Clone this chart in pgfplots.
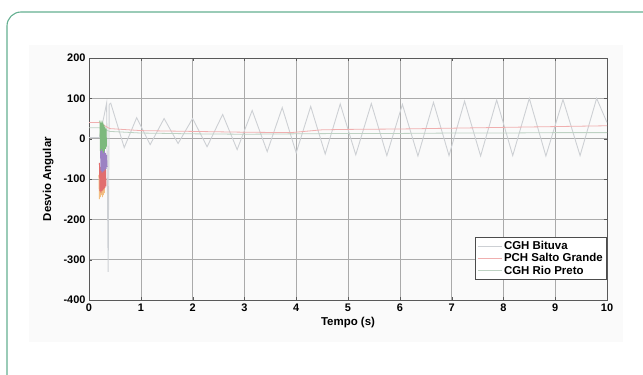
\documentclass[border=0pt]{standalone}
\usepackage{pgfplots}
\pgfplotsset{compat=1.18}
\usepackage{fontspec}
\setmainfont{Liberation Sans}
\definecolor{framegreen}{RGB}{100,175,145}
\definecolor{bituva}{RGB}{205,208,212}
\definecolor{salto}{RGB}{240,175,175}
\definecolor{rio}{RGB}{190,210,195}
\definecolor{trgreen}{RGB}{125,185,125}
\definecolor{trpurple}{RGB}{155,130,195}
\definecolor{trred}{RGB}{225,110,110}
\definecolor{trorange}{RGB}{242,190,130}
\definecolor{gridc}{RGB}{170,170,170}
\definecolor{bgc}{RGB}{250,250,250}
\begin{document}
\begin{tikzpicture}[x=1bp,y=1bp]
\path[use as bounding box] (0,0) rectangle (643,374);
\fill[bgc] (29,32) rectangle (623,329);
\draw[framegreen, line width=1.1bp, rounded corners=14bp] (7,-20) -- (7,362) -- (660,362);
\begin{axis}[
  at={(89bp,74bp)}, anchor=south west,
  width=518bp, height=242bp, scale only axis,
  xmin=0, xmax=10, ymin=-400, ymax=200,
  xtick={0,1,...,10}, ytick={-400,-300,...,200},
  grid=major,
  major grid style={gridc, line width=0.6pt},
  axis line style={gray!70!black, line width=0.6pt},
  tick style={gray!70!black},
  tick align=inside,
  major tick length=3bp,
  font=\fontsize{11.5}{13}\selectfont\bfseries,
  tick label style={font=\fontsize{11}{13}\selectfont\bfseries},
  /pgf/number format/assume math mode=true,
  xlabel={Tempo (s)}, ylabel={Desvio Angular},
  xlabel style={at={(axis description cs:0.5,-0.095)}, anchor=center},
  ylabel style={at={(axis description cs:-0.079,0.5)}, anchor=center},
  xticklabel style={yshift=0bp},
  yticklabel style={xshift=0bp},
  legend style={at={(1,0.26)}, anchor=north east, draw=gray!60!black, line width=0.6pt,
    font=\fontsize{11.5}{13}\selectfont\bfseries, row sep=-1.5bp, inner sep=2bp, fill=white},
  legend cell align=left,
  legend image code/.code={\draw[#1] (0bp,0bp) -- (24bp,0bp);},
]
\addplot[bituva, line width=0.9pt] coordinates {
(0,3) (0.2,3) (0.28,50) (0.34,88) (0.37,-330) (0.39,85) (0.42,88)
(0.68,-22) (0.92,52) (1.18,-15) (1.45,50) (1.72,-12) (2.0,50) (2.28,-20)
(2.58,60) (2.86,-27) (3.15,70) (3.44,-32) (3.73,77) (4.0,-35) (4.28,80)
(4.56,-38) (4.85,86) (5.15,-40) (5.45,87) (5.75,-42) (6.05,85) (6.35,-43)
(6.65,90) (6.95,-42) (7.25,93) (7.56,-43) (7.87,96) (8.18,-42) (8.5,100)
(8.82,-43) (9.15,97) (9.48,-42) (9.8,100) (10,40)
};
\addlegendentry{CGH Bituva}
\addplot[salto, line width=0.8pt] coordinates {
(0,40) (0.2,40) (0.4,25) (1,20) (2,18) (3,16) (3.9,15) (4.5,22) (5,23)
(6,24) (7,26) (8,28) (9,30) (10,32)
};
\addlegendentry{PCH Salto Grande}
\addplot[rio, line width=0.8pt] coordinates {
(0,27) (0.2,27) (0.4,18) (1,14) (2,12) (3,11) (4,12) (5,13) (6,13) (7,14) (8,14) (9,15) (10,15)
};
\addlegendentry{CGH Rio Preto}
\addplot[trorange, line width=0.8pt, forget plot] coordinates {
(0.19,-90) (0.20,-150) (0.21,-100) (0.22,-145) (0.23,-95) (0.24,-140) (0.25,-100)
(0.26,-145) (0.27,-95) (0.28,-140) (0.29,-100) (0.30,-135)
};
\addplot[trred, line width=0.8pt, forget plot] coordinates {
(0.20,-60) (0.21,-130) (0.22,-70) (0.23,-135) (0.24,-65) (0.25,-130) (0.26,-70)
(0.27,-128) (0.28,-65) (0.29,-125) (0.30,-70) (0.31,-122) (0.32,-75) (0.33,-118)
};
\addplot[trpurple, line width=0.8pt, forget plot] coordinates {
(0.22,-20) (0.23,-80) (0.24,-25) (0.25,-85) (0.26,-30) (0.27,-82) (0.28,-25)
(0.29,-80) (0.30,-30) (0.31,-78) (0.32,-35) (0.33,-75) (0.34,-40) (0.35,-70)
};
\addplot[trgreen, line width=0.8pt, forget plot] coordinates {
(0.21,45) (0.22,-30) (0.23,40) (0.24,-25) (0.25,45) (0.26,-30) (0.27,40)
(0.28,-35) (0.29,35) (0.30,-30) (0.31,30) (0.32,-25) (0.33,25) (0.34,-20)
};
\end{axis}
\end{tikzpicture}
\end{document}
